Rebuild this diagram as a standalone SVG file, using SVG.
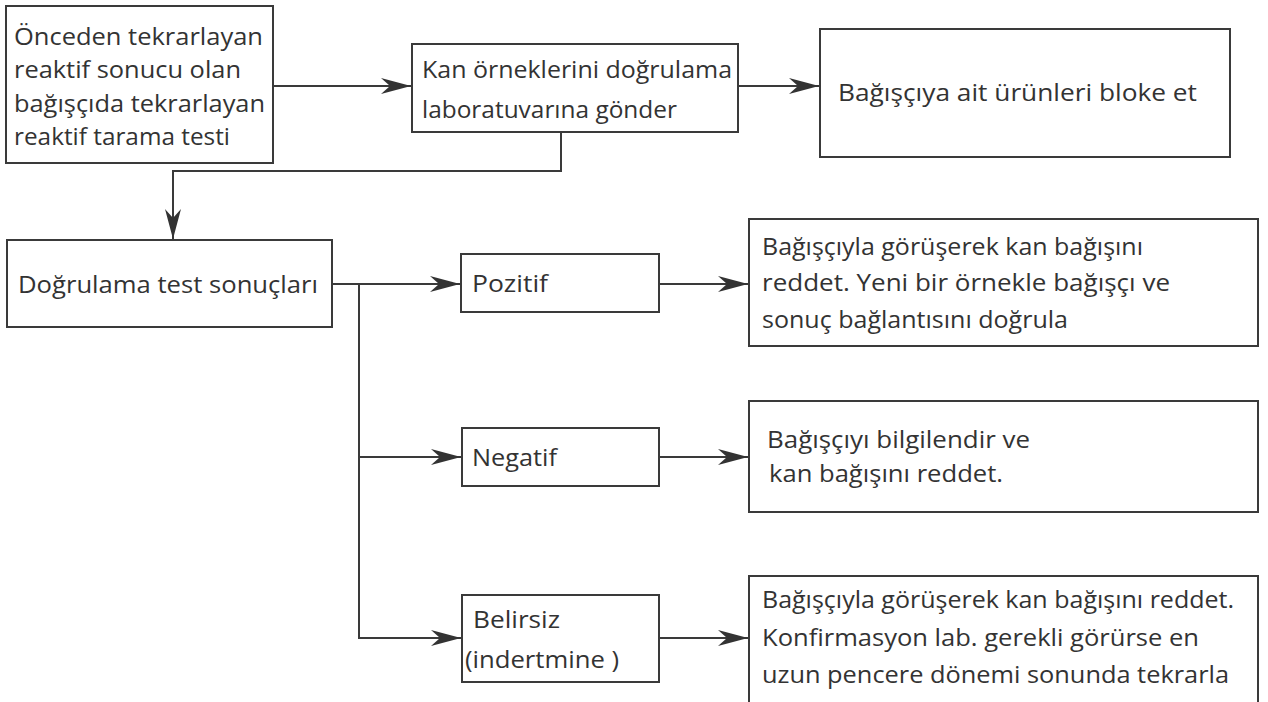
<svg xmlns="http://www.w3.org/2000/svg" width="1268" height="702" viewBox="0 0 1268 702">
  <style>
    .box { fill: #ffffff; stroke: #3a3a3a; stroke-width: 2; }
    .edge { fill: none; stroke: #3a3a3a; stroke-width: 2; }
    text { font-family: "Open Sans", "Noto Sans", "Liberation Sans", sans-serif; font-size: 24px; fill: #333333; }
  </style>
  <defs>
    <marker id="arrow" viewBox="0 0 30 18" refX="30" refY="9" markerWidth="30" markerHeight="18" markerUnits="userSpaceOnUse" orient="auto">
      <path d="M0,1 L30,9 L0,17 L9,9 Z" fill="#333333"/>
    </marker>
  </defs>
  <rect width="1268" height="702" fill="#ffffff"/>

  <!-- connectors -->
  <g id="connectors">
    <line class="edge" x1="273" y1="86" x2="411" y2="86" marker-end="url(#arrow)"/>
    <line class="edge" x1="738" y1="86" x2="819" y2="86" marker-end="url(#arrow)"/>
    <polyline class="edge" points="561,132 561,171 173,171 173,239" marker-end="url(#arrow)"/>
    <line class="edge" x1="332" y1="284" x2="460" y2="284" marker-end="url(#arrow)"/>
    <polyline class="edge" points="359,284 359,638 461,638" marker-end="url(#arrow)"/>
    <line class="edge" x1="359" y1="457" x2="461" y2="457" marker-end="url(#arrow)"/>
    <line class="edge" x1="659" y1="284" x2="748" y2="284" marker-end="url(#arrow)"/>
    <line class="edge" x1="659" y1="457" x2="748" y2="457" marker-end="url(#arrow)"/>
    <line class="edge" x1="659" y1="638" x2="748" y2="638" marker-end="url(#arrow)"/>
  </g>

  <g id="screen-test">
    <rect class="box" x="6" y="6" width="267" height="157"/>
    <text x="14" y="45" textLength="249" lengthAdjust="spacingAndGlyphs">Önceden tekrarlayan</text>
    <text x="14" y="78" textLength="227" lengthAdjust="spacingAndGlyphs">reaktif sonucu olan</text>
    <text x="14" y="112" textLength="251" lengthAdjust="spacingAndGlyphs">bağışçıda tekrarlayan</text>
    <text x="14" y="145" textLength="216" lengthAdjust="spacingAndGlyphs">reaktif tarama testi</text>
  </g>

  <g id="send-lab">
    <rect class="box" x="412" y="44" width="326" height="88"/>
    <text x="422" y="78" textLength="310" lengthAdjust="spacingAndGlyphs">Kan örneklerini doğrulama</text>
    <text x="422" y="118" textLength="255" lengthAdjust="spacingAndGlyphs">laboratuvarına gönder</text>
  </g>

  <g id="block-products">
    <rect class="box" x="820" y="29" width="410" height="128"/>
    <text x="838" y="101" textLength="359" lengthAdjust="spacingAndGlyphs">Bağışçıya ait ürünleri bloke et</text>
  </g>

  <g id="confirm-results">
    <rect class="box" x="7" y="240" width="325" height="87"/>
    <text x="18" y="293" textLength="300" lengthAdjust="spacingAndGlyphs">Doğrulama test sonuçları</text>
  </g>

  <g id="positive">
    <rect class="box" x="461" y="254" width="198" height="58"/>
    <text x="472" y="292" textLength="76" lengthAdjust="spacingAndGlyphs">Pozitif</text>
  </g>

  <g id="negative">
    <rect class="box" x="462" y="428" width="197" height="58"/>
    <text x="472" y="466" textLength="85" lengthAdjust="spacingAndGlyphs">Negatif</text>
  </g>

  <g id="indeterminate">
    <rect class="box" x="462" y="595" width="197" height="87"/>
    <text x="473" y="628" textLength="87" lengthAdjust="spacingAndGlyphs">Belirsiz</text>
    <text x="465" y="668" textLength="154" lengthAdjust="spacingAndGlyphs">(indertmine )</text>
  </g>

  <g id="positive-action">
    <rect class="box" x="749" y="219" width="509" height="127"/>
    <text x="762" y="255" textLength="381" lengthAdjust="spacingAndGlyphs">Bağışçıyla görüşerek kan bağışını</text>
    <text x="762" y="291" textLength="408" lengthAdjust="spacingAndGlyphs">reddet. Yeni bir örnekle bağışçı ve</text>
    <text x="762" y="328" textLength="306" lengthAdjust="spacingAndGlyphs">sonuç bağlantısını doğrula</text>
  </g>

  <g id="negative-action">
    <rect class="box" x="749" y="401" width="509" height="111"/>
    <text x="767" y="448" textLength="263" lengthAdjust="spacingAndGlyphs">Bağışçıyı bilgilendir ve</text>
    <text x="769" y="482" textLength="234" lengthAdjust="spacingAndGlyphs">kan bağışını reddet.</text>
  </g>

  <g id="indeterminate-action">
    <rect class="box" x="749" y="576" width="509" height="150"/>
    <text x="762" y="608" textLength="472" lengthAdjust="spacingAndGlyphs">Bağışçıyla görüşerek kan bağışını reddet.</text>
    <text x="762" y="646" textLength="437" lengthAdjust="spacingAndGlyphs">Konfirmasyon lab. gerekli görürse en</text>
    <text x="762" y="683" textLength="467" lengthAdjust="spacingAndGlyphs">uzun pencere dönemi sonunda tekrarla</text>
  </g>
</svg>
